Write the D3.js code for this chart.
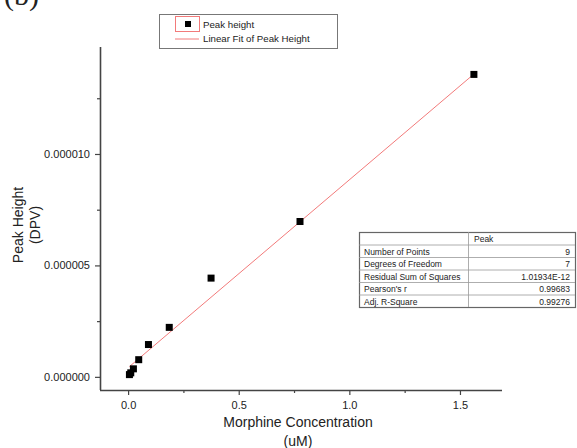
<!DOCTYPE html>
<html>
<head>
<meta charset="utf-8">
<script src="https://cdn.jsdelivr.net/npm/d3@7"></script>
<style>
  body { margin: 0; background: #fff; }
  text { font-family: "Liberation Sans", Arial, sans-serif; fill: #222; }
</style>
</head>
<body>
<div id="chart"></div>
<script>
// concentrations (uM) and peak heights (DPV)
var conc = [0.006, 0.012, 0.024, 0.048, 0.092, 0.186, 0.375, 0.777, 1.563];
var peak = [0.10e-6, 0.18e-6, 0.36e-6, 0.77e-6, 1.45e-6, 2.22e-6, 4.43e-6, 6.97e-6, 13.57e-6];

// linear fit
var fitSlope = 8.43e-6, fitIntercept = 0.41e-6;

var xTicks = [0, 0.5, 1.0, 1.5],
    xMinor = [0.25, 0.75, 1.25],
    yTicks = [0, 5e-6, 10e-6],
    yMinor = [2.5e-6, 7.5e-6, 12.5e-6];

var legendLabels = ["Peak height", "Linear Fit of Peak Height"];
var statHeader = "Peak";
var statLabels = ["Number of Points", "Degrees of Freedom", "Residual Sum of Squares", "Pearson's r", "Adj. R-Square"];
var statValues = ["9", "7", "1.01934E-12", "0.99683", "0.99276"];

var width = 577, height = 448;
var svg = d3.select("#chart").append("svg")
    .attr("width", width)
    .attr("height", height);

var x = d3.scaleLinear().domain([-0.127, 1.69]).range([100, 502]);
var y = d3.scaleLinear().domain([-0.59e-6, 14.8e-6]).range([390, 47]);

// panel tag, cut off at the top like the source
svg.append("text")
    .attr("x", 4).attr("y", 5)
    .style("font-family", "'Liberation Serif', 'Times New Roman', serif")
    .style("font-size", "30px")
    .text("(b)");

// axes
var xAxis = svg.append("g")
    .attr("transform", "translate(0,390)")
    .call(d3.axisBottom(x).tickValues(xTicks).tickFormat(d3.format(".1f")).tickSize(5).tickPadding(6));
var xMin = svg.append("g")
    .attr("transform", "translate(0,390)")
    .call(d3.axisBottom(x).tickValues(xMinor).tickFormat("").tickSize(3));

var yAxis = svg.append("g")
    .attr("transform", "translate(100,0)")
    .call(d3.axisLeft(y).tickValues(yTicks).tickFormat(function(d) { return d3.format(".6f")(d); }).tickSize(5).tickPadding(5));
var yMin = svg.append("g")
    .attr("transform", "translate(100,0)")
    .call(d3.axisLeft(y).tickValues(yMinor).tickFormat("").tickSize(3));

svg.selectAll(".domain").attr("stroke", "#444").attr("stroke-width", 1.6);
xMin.select(".domain").remove();
yMin.select(".domain").remove();
svg.selectAll(".tick line").attr("stroke", "#444").attr("stroke-width", 1.2);
svg.selectAll(".tick text")
    .style("font-family", "'Liberation Sans', Arial, sans-serif")
    .style("font-size", "11px")
    .attr("fill", "#222");
// ends of axes without outer ticks
xAxis.select(".domain").attr("d", "M100,0.5H502");
yAxis.select(".domain").attr("d", "M0.5,47V390");

// axis titles
svg.append("text")
    .attr("x", 298).attr("y", 427)
    .attr("text-anchor", "middle")
    .style("font-size", "14px")
    .text("Morphine Concentration");
svg.append("text")
    .attr("x", 298).attr("y", 446)
    .attr("text-anchor", "middle")
    .style("font-size", "14px")
    .text("(uM)");
svg.append("text")
    .attr("transform", "translate(23,225) rotate(-90)")
    .attr("text-anchor", "middle")
    .style("font-size", "14px")
    .text("Peak Height");
svg.append("text")
    .attr("transform", "translate(40,225) rotate(-90)")
    .attr("text-anchor", "middle")
    .style("font-size", "14px")
    .text("(DPV)");

// fit line
var xr = d3.extent(conc);
svg.append("line")
    .attr("x1", x(xr[0])).attr("y1", y(fitIntercept + fitSlope * xr[0]))
    .attr("x2", x(xr[1])).attr("y2", y(fitIntercept + fitSlope * xr[1]))
    .attr("stroke", "#f27a7a")
    .attr("stroke-width", 1);

// points
svg.append("g").selectAll("rect")
    .data(d3.range(conc.length))
  .enter().append("rect")
    .attr("x", function(i) { return x(conc[i]) - 3.5; })
    .attr("y", function(i) { return y(peak[i]) - 3.5; })
    .attr("width", 7).attr("height", 7)
    .attr("fill", "#000");

// legend
var lg = svg.append("g");
lg.append("rect")
    .attr("x", 159.5).attr("y", 14.5).attr("width", 178).attr("height", 34)
    .attr("fill", "#fff").attr("stroke", "#777").attr("stroke-width", 1);
lg.append("rect")
    .attr("x", 175.5).attr("y", 16.5).attr("width", 24).attr("height", 15)
    .attr("fill", "none").attr("stroke", "#f27a7a").attr("stroke-width", 1);
lg.append("rect")
    .attr("x", 185).attr("y", 21).attr("width", 6).attr("height", 6)
    .attr("fill", "#000");
lg.append("line")
    .attr("x1", 175).attr("x2", 199).attr("y1", 39).attr("y2", 39)
    .attr("stroke", "#f27a7a").attr("stroke-width", 1);
lg.selectAll("text.lab")
    .data(legendLabels)
  .enter().append("text")
    .attr("class", "lab")
    .attr("x", 203)
    .attr("y", function(d, i) { return 28 + i * 14; })
    .style("font-size", "9.7px")
    .text(function(d) { return d; });

// statistics table
var tx = 359, ty = 232, tw = 216, c1 = 109, rh = 12.5;
var tb = svg.append("g").style("font-size", "8.5px");
tb.append("rect")
    .attr("x", tx + 0.5).attr("y", ty + 0.5)
    .attr("width", tw).attr("height", rh * (statLabels.length + 1))
    .attr("fill", "#fff").attr("stroke", "#666").attr("stroke-width", 1.2);
d3.range(1, statLabels.length + 1).forEach(function(i) {
  tb.append("line")
      .attr("x1", tx).attr("x2", tx + tw)
      .attr("y1", ty + i * rh + 0.5).attr("y2", ty + i * rh + 0.5)
      .attr("stroke", "#999").attr("stroke-width", 0.8);
});
tb.append("line")
    .attr("x1", tx + c1 + 0.5).attr("x2", tx + c1 + 0.5)
    .attr("y1", ty).attr("y2", ty + rh * (statLabels.length + 1))
    .attr("stroke", "#999").attr("stroke-width", 0.8);
tb.append("text")
    .attr("x", tx + c1 + 6).attr("y", ty + 10)
    .text(statHeader);
tb.selectAll("text.sl")
    .data(statLabels)
  .enter().append("text")
    .attr("class", "sl")
    .attr("x", tx + 5)
    .attr("y", function(d, i) { return ty + (i + 1) * rh + 10; })
    .text(function(d) { return d; });
tb.selectAll("text.sv")
    .data(statValues)
  .enter().append("text")
    .attr("class", "sv")
    .attr("x", tx + tw - 5)
    .attr("text-anchor", "end")
    .attr("y", function(d, i) { return ty + (i + 1) * rh + 10; })
    .text(function(d) { return d; });
</script>
</body>
</html>
